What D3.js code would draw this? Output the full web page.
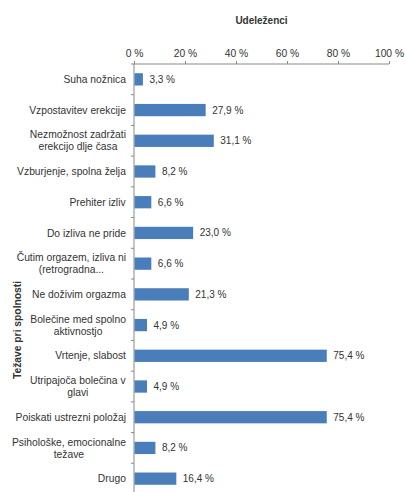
<!DOCTYPE html>
<html><head><meta charset="utf-8">
<script src="https://cdn.jsdelivr.net/npm/d3@7"></script>
<style>body{margin:0;background:#fff}text{font-family:"Liberation Sans",Arial,sans-serif}</style>
</head><body><svg id="c" width="406" height="492"></svg>
<script>
const categories = [
  ["Suha nožnica"],
  ["Vzpostavitev erekcije"],
  ["Nezmožnost zadržati","erekcijo dlje časa"],
  ["Vzburjenje, spolna želja"],
  ["Prehiter izliv"],
  ["Do izliva ne pride"],
  ["Čutim orgazem, izliva ni","(retrogradna..."],
  ["Ne doživim orgazma"],
  ["Bolečine med spolno","aktivnostjo"],
  ["Vrtenje, slabost"],
  ["Utripajoča bolečina v","glavi"],
  ["Poiskati ustrezni položaj"],
  ["Psihološke, emocionalne","težave"],
  ["Drugo"]
];
const values = [3.3, 27.9, 31.1, 8.2, 6.6, 23.0, 6.6, 21.3, 4.9, 75.4, 4.9, 75.4, 8.2, 16.4];
const xTicks = [0, 20, 40, 60, 80, 100];
const xTitle = "Udeleženci";
const yTitle = "Težave pri spolnosti";

const svg = d3.select("#c");
const x = d3.scaleLinear().domain([0, 100]).range([134, 389]);
const y = d3.scaleBand().domain(d3.range(categories.length)).range([64, 494]).paddingInner(0.6).paddingOuter(0.3);
const txt = "#333";

// x axis
const xa = svg.append("g").attr("transform", "translate(0,64)")
  .call(d3.axisTop(x).tickValues(xTicks).tickSize(3).tickPadding(4).tickFormat(d => d + " %"));
xa.select(".domain").attr("stroke", "#888").attr("d", "M134,0H389");
xa.selectAll(".tick line").attr("stroke", "#888");
xa.selectAll(".tick text").attr("fill", txt).style("font-size", "10.3px").style("font-family", "Liberation Sans, Arial, sans-serif");

// y axis line + ticks at band boundaries
svg.append("line").attr("x1", 134).attr("x2", 134).attr("y1", 64).attr("y2", 494).attr("stroke", "#888");
const step = y.step();
svg.selectAll(".yt").data(d3.range(categories.length + 1)).join("line")
  .attr("x1", 131).attr("x2", 134)
  .attr("y1", i => 64 + i * step).attr("y2", i => 64 + i * step).attr("stroke", "#888");

// bars
svg.selectAll(".bar").data(values).join("rect")
  .attr("x", x(0) + 0.5).attr("y", (d, i) => y(i))
  .attr("width", d => x(d) - x(0)).attr("height", y.bandwidth())
  .attr("fill", "#4a7ebb");

// value labels
svg.selectAll(".val").data(values).join("text")
  .attr("x", d => x(d) + 7).attr("y", (d, i) => y(i) + y.bandwidth() / 2)
  .attr("dy", "0.35em").attr("fill", txt).style("font-size", "10px")
  .text(d => d.toFixed(1).replace(".", ",") + " %");

// category labels
const cl = svg.selectAll(".cat").data(categories).join("text")
  .attr("text-anchor", "middle").attr("fill", txt).style("font-size", "10.3px");
cl.each(function(lines, i) {
  const cy = y(i) + y.bandwidth() / 2;
  const lh = 12;
  const t = d3.select(this);
  lines.forEach((l, k) => {
    t.append("tspan").attr("x", 0).attr("y", cy + (k - (lines.length - 1) / 2) * lh).attr("dy", "0.35em").text(l);
  });
});
// right-align block, center lines within block
cl.each(function() {
  const bb = this.getBBox();
  d3.select(this).attr("transform", `translate(${126 - bb.width / 2},0)`);
});

// titles
svg.append("text").attr("x", 261.5).attr("y", 24).attr("text-anchor", "middle")
  .attr("fill", txt).style("font-size", "10px").style("font-weight", "bold").text(xTitle);
svg.append("text").attr("transform", "translate(21,330) rotate(-90)").attr("text-anchor", "middle")
  .attr("fill", txt).style("font-size", "10.3px").style("font-weight", "bold").text(yTitle);
</script></body></html>
